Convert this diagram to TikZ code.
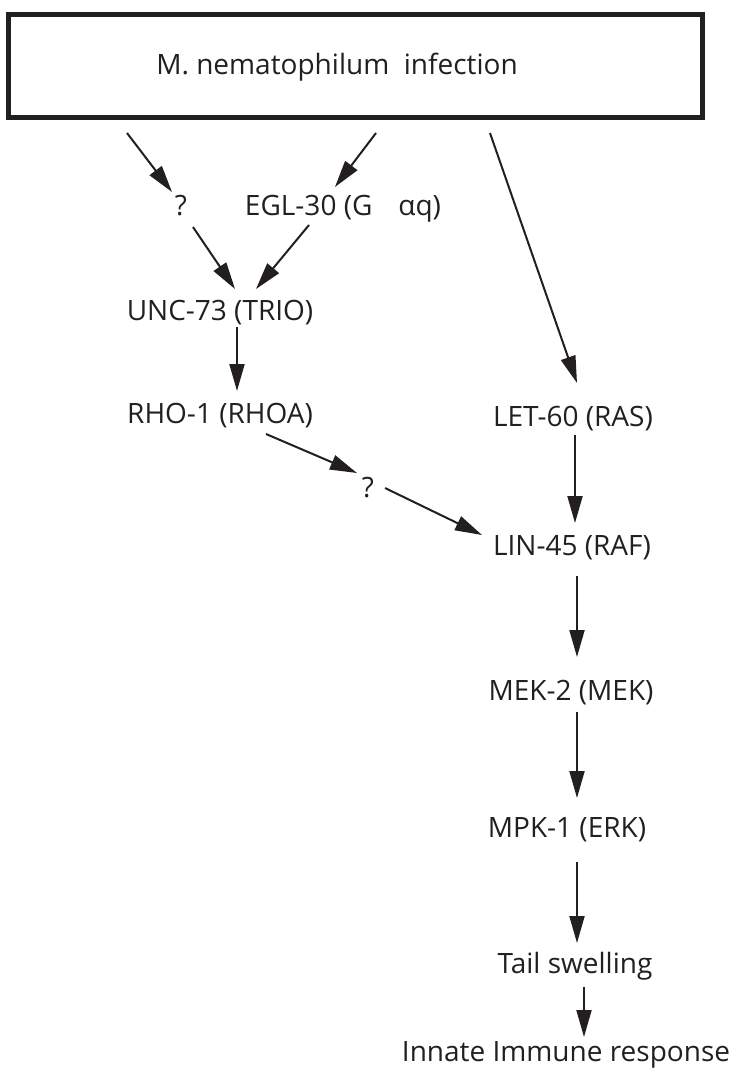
\documentclass[tikz,border=0pt]{standalone}
\usepackage{fontspec}
\setmainfont{Open Sans}
\usepackage{tikz}
\usetikzlibrary{arrows.meta, positioning}
\definecolor{RichBlack}{RGB}{35,31,32}
\tikzset{%
  infection_box/.style={%
    rectangle,%
    draw=RichBlack,%
    line width=5pt,%
    minimum width=694pt,%
    minimum height=103pt,%
    inner sep=0pt,%
  },
  gene/.style={%
    anchor=base,%
    inner sep=0pt,%
    text=RichBlack,%
    font={\fontsize{28}{34}\selectfont},%
  },
  smooth_path/.style={%
    color=RichBlack,%
    line width=2pt,%
  },
  arrow/.style={-{Triangle[length=27pt, width=15pt]}},
}

\begin{document}
\begin{tikzpicture}[x=1pt, y=-1pt]
    \useasboundingbox (0,0) rectangle (736,1069);
    \node [infection_box] (Box) at (355,66) {};
    \node [gene] (Infection) at (337,74) {M. nematophilum\ \ infection};
    \node [gene] (Unknown1) at (181,215) {?};
    \node [gene] (EGL) at (343,215) {EGL-30 (G\hspace{26pt}αq)};
    \node [gene] (UNC) at (220,320) {UNC-73 (TRIO)};
    \node [gene] (RHO) at (220,423) {RHO-1 (RHOA)};
    \node [gene] (Unknown2) at (368,497) {?};
    \node [gene] (LET) at (573,426) {LET-60 (RAS)};
    \node [gene] (LIN) at (572,555) {LIN-45 (RAF)};
    \node [gene] (MEK) at (571,700) {MEK-2 (MEK)};
    \node [gene] (MPK) at (567,837) {MPK-1 (ERK)};
    \node [gene] (Tail) at (575,973) {Tail swelling};
    \node [gene] (Innate) at (566,1061) {Innate Immune response};

    % left branch
    \draw [arrow, smooth_path]
      ([shift={(-228,13)}]Box.south) -- ([shift={(-9,-23)}]Unknown1.base);
    \draw [arrow, smooth_path]
      ([shift={(21,13)}]Box.south) -- ([shift={(-8,-28)}]EGL.base);
    \draw [arrow, smooth_path]
      ([shift={(12,12)}]Unknown1.base) -- ([shift={(15,-31)}]UNC.base);
    \draw [arrow, smooth_path]
      ([shift={(-34,10)}]EGL.base) -- ([shift={(36,-31)}]UNC.base);
    \draw [arrow, smooth_path]
      ([shift={(17,7)}]UNC.base) -- ([shift={(17,-32)}]RHO.base);
    \draw [arrow, smooth_path]
      ([shift={(46,11)}]RHO.base) -- ([shift={(-11,-24)}]Unknown2.base);
    \draw [arrow, smooth_path]
      ([shift={(17,-9)}]Unknown2.base) -- ([shift={(-90,-20)}]LIN.base);

    % right branch
    \draw [arrow, smooth_path]
      ([shift={(135,13)}]Box.south) -- ([shift={(4,-43)}]LET.base);
    \draw [arrow, smooth_path]
      ([shift={(2,9)}]LET.base) -- ([shift={(3,-32)}]LIN.base);
    \draw [arrow, smooth_path]
      ([shift={(5,21)}]LIN.base) -- ([shift={(6,-43)}]MEK.base);
    \draw [arrow, smooth_path]
      ([shift={(6,12)}]MEK.base) -- ([shift={(10,-39)}]MPK.base);
    \draw [arrow, smooth_path]
      ([shift={(10,25)}]MPK.base) -- ([shift={(2,-30)}]Tail.base);
    \draw [arrow, smooth_path]
      ([shift={(9,14)}]Tail.base) -- ([shift={(18,-24)}]Innate.base);
\end{tikzpicture}
\end{document}
